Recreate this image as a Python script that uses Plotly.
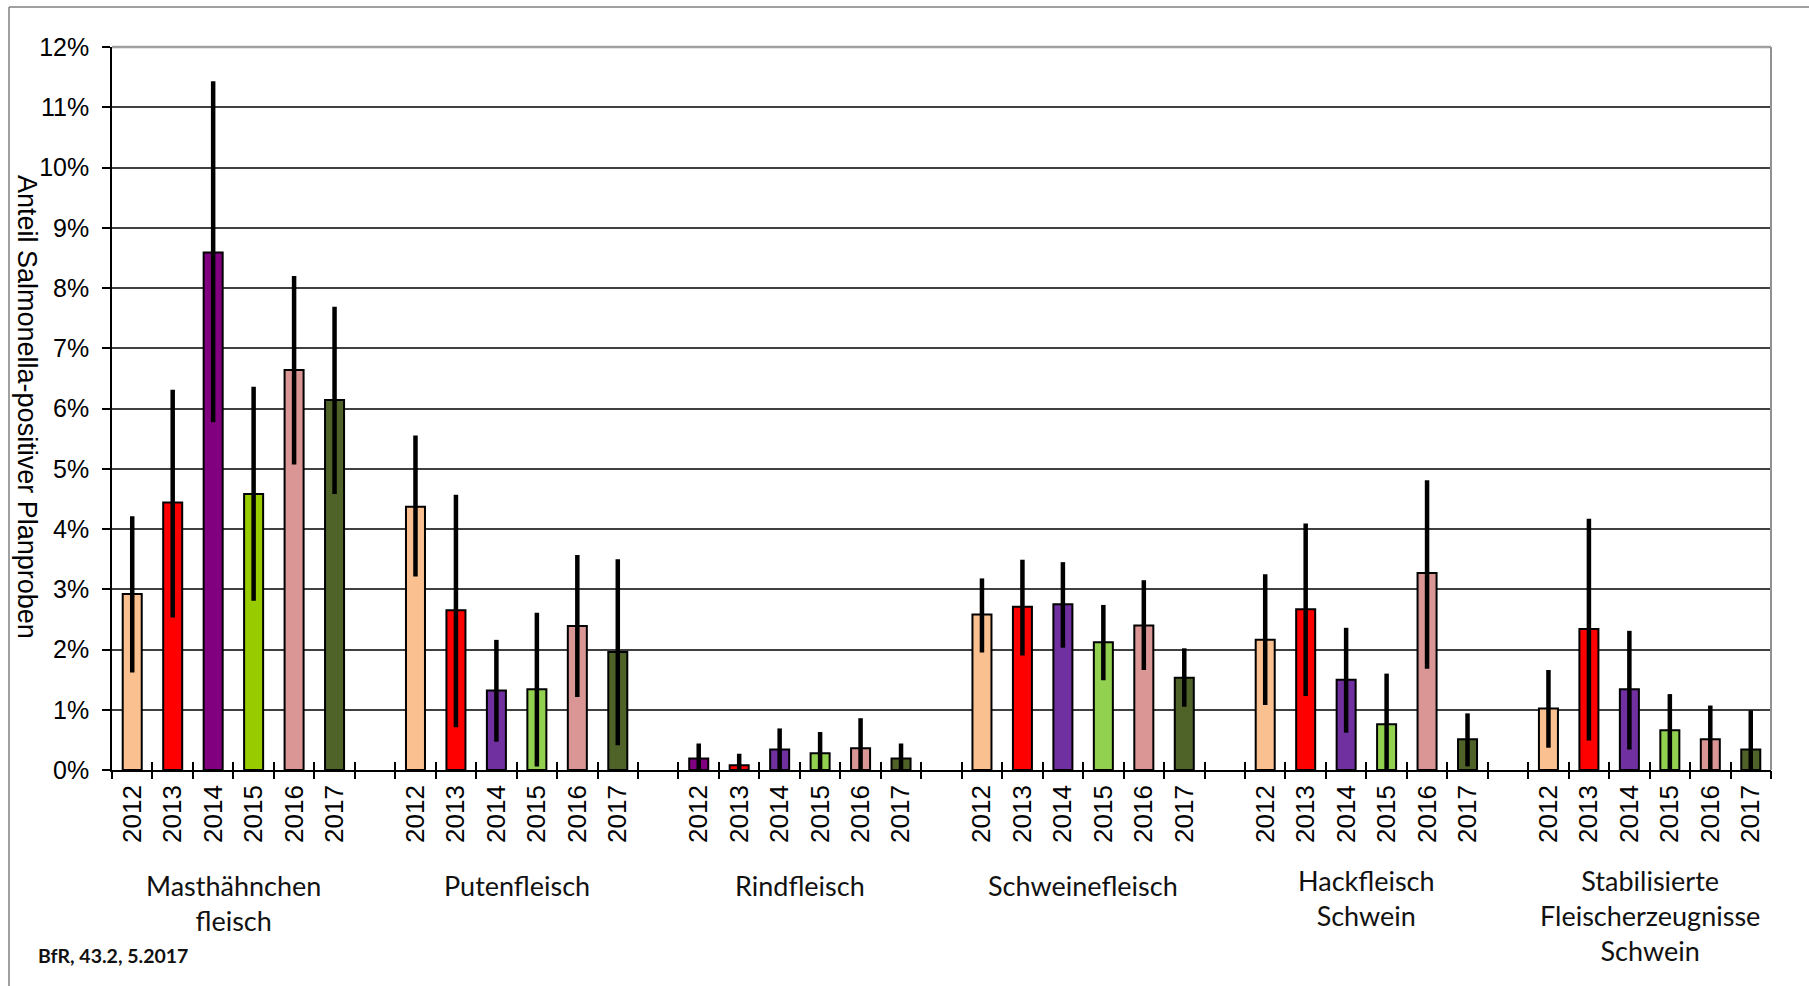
import plotly.graph_objects as go

# --- data (share of Salmonella-positive samples, %) ---
years = ["2012", "2013", "2014", "2015", "2016", "2017"]
categories = [
    "Masthähnchen<br>fleisch",
    "Putenfleisch",
    "Rindfleisch",
    "Schweinefleisch",
    "Hackfleisch<br>Schwein",
    "Stabilisierte<br>Fleischerzeugnisse<br>Schwein",
]

mast = [2.92, 4.44, 8.59, 4.58, 6.64, 6.14]
mast_hi = [4.21, 6.31, 11.43, 6.36, 8.20, 7.69]
mast_lo = [1.62, 2.53, 5.77, 2.81, 5.07, 4.58]

pute = [4.37, 2.65, 1.32, 1.34, 2.39, 1.96]
pute_hi = [5.55, 4.57, 2.16, 2.61, 3.57, 3.50]
pute_lo = [3.21, 0.71, 0.47, 0.06, 1.21, 0.41]

rind = [0.19, 0.08, 0.34, 0.28, 0.36, 0.19]
rind_hi = [0.44, 0.27, 0.69, 0.63, 0.86, 0.44]
rind_lo = [0.0, 0.0, 0.0, 0.0, 0.0, 0.0]

schwein = [2.58, 2.71, 2.75, 2.12, 2.40, 1.53]
schwein_hi = [3.18, 3.49, 3.45, 2.74, 3.15, 2.02]
schwein_lo = [1.95, 1.90, 2.03, 1.49, 1.66, 1.05]

hack = [2.16, 2.67, 1.50, 0.76, 3.27, 0.51]
hack_hi = [3.25, 4.09, 2.36, 1.60, 4.81, 0.94]
hack_lo = [1.08, 1.23, 0.62, 0.0, 1.68, 0.06]

stab = [1.02, 2.34, 1.34, 0.66, 0.51, 0.34]
stab_hi = [1.66, 4.17, 2.31, 1.26, 1.07, 0.99]
stab_lo = [0.37, 0.49, 0.34, 0.0, 0.0, 0.0]

y_ticks = list(range(0, 13))
y_tick_labels = [f"{v}%" for v in y_ticks]

# --- colours per year ---
colors_default = ["#FAC090", "#FF0000", "#7030A0", "#92D050", "#D99694", "#4F6228"]
colors_mast = ["#FAC090", "#FF0000", "#800080", "#99CC00", "#D99694", "#4F6228"]
colors_rind = ["#800080", "#FF0000", "#7030A0", "#92D050", "#D99694", "#4F6228"]

groups = [
    (mast, mast_hi, mast_lo, colors_mast),
    (pute, pute_hi, pute_lo, colors_default),
    (rind, rind_hi, rind_lo, colors_rind),
    (schwein, schwein_hi, schwein_lo, colors_default),
    (hack, hack_hi, hack_lo, colors_default),
    (stab, stab_hi, stab_lo, colors_default),
]

SLOTS = len(years) + 1  # one empty slot between groups
n_slots = len(categories) * SLOTS - 1

fig = go.Figure()
tick_pos, tick_txt = [], []
for g, (vals, hi, lo, cols) in enumerate(groups):
    xs = [g * SLOTS + i for i in range(len(years))]
    tick_pos += xs
    tick_txt += years
    fig.add_trace(go.Bar(
        x=xs, y=vals,
        marker=dict(color=cols, line=dict(color="black", width=2)),
        error_y=dict(
            type="data", symmetric=False,
            array=[h - v for h, v in zip(hi, vals)],
            arrayminus=[v - l for v, l in zip(vals, lo)],
            color="black", thickness=4.5, width=0,
        ),
        showlegend=False,
        hoverinfo="skip",
    ))

# empty helper traces so the overlaid tick axes get drawn
for ax in ("x2", "x3"):
    fig.add_trace(go.Scatter(x=[None], y=[None], xaxis=ax, yaxis="y",
                             mode="markers", showlegend=False, hoverinfo="skip"))

# plot area geometry (px)
W, H = 1809, 986
L, R, T, B = 112, 38, 47, 216
pw, ph = W - L - R, H - T - B


def px_x(px):
    return (px - L) / pw


def px_y(py):
    return 1 - (py - T) / ph


SANS = "Liberation Sans, Arial, sans-serif"
tick_font = dict(family=SANS, size=25, color="black")
year_font = dict(family=SANS, size=26, color="black")
title_font = dict(family=SANS, size=27, color="black")
label_font = dict(family="Lato, Calibri, sans-serif", size=27, color="#111111")

boundaries = [k - 0.5 for k in range(n_slots + 1)]
x_range = [-0.5, n_slots - 0.5]

tick_axis = dict(
    overlaying="x", anchor="y", side="bottom",
    range=x_range, tickmode="array", tickvals=boundaries,
    ticklen=8, tickwidth=1.5, tickcolor="black",
    showticklabels=False, showgrid=False, zeroline=False, showline=False,
    automargin=False, fixedrange=True,
)

fig.update_layout(
    template="none",
    width=W, height=H,
    margin=dict(l=L, r=R, t=T, b=B, pad=0),
    paper_bgcolor="white", plot_bgcolor="white",
    bargap=0.53,
    xaxis=dict(
        range=x_range,
        tickmode="array", tickvals=tick_pos, ticktext=tick_txt,
        tickangle=-90, ticks="", tickfont=year_font,
        ticklabelstandoff=3,
        showgrid=False, zeroline=False,
        showline=True, linecolor="black", linewidth=1.5,
        automargin=False, fixedrange=True,
    ),
    xaxis2=dict(tick_axis, ticks="outside"),
    xaxis3=dict(tick_axis, ticks="inside"),
    yaxis=dict(
        range=[0, 12],
        tickmode="array", tickvals=y_ticks, ticktext=y_tick_labels,
        tickfont=tick_font, ticklabelstandoff=8,
        ticks="outside", ticklen=8, tickwidth=1.5, tickcolor="black",
        showgrid=True, gridcolor="#404040", gridwidth=1.5,
        zeroline=False,
        showline=True, linecolor="black", linewidth=1.5,
        automargin=False, fixedrange=True,
    ),
)

# plot border (top and right) in light grey
fig.add_shape(type="line", xref="paper", yref="paper", x0=0, x1=1, y0=1, y1=1,
              line=dict(color="#A0A0A0", width=2.5))
fig.add_shape(type="line", xref="paper", yref="paper", x0=1, x1=1, y0=0, y1=1,
              line=dict(color="#909090", width=2))

# outer chart frame
fx, fy = px_x(9), px_y(7)
fig.add_shape(type="line", xref="paper", yref="paper", x0=fx, x1=fx, y0=fy, y1=px_y(H + 20),
              line=dict(color="#808080", width=1.5))
fig.add_shape(type="line", xref="paper", yref="paper", x0=fx, x1=px_x(W + 20), y0=fy, y1=fy,
              line=dict(color="#808080", width=1.5))

# group labels
for g, name in enumerate(categories):
    top_px = 862 if g >= 4 else 867
    fig.add_annotation(
        x=g * SLOTS + (len(years) - 1) / 2, xref="x",
        y=px_y(top_px), yref="paper",
        text=name, showarrow=False, align="center",
        xanchor="center", yanchor="top", font=label_font,
    )

# y-axis title, reading top to bottom
fig.add_annotation(
    x=px_x(27), y=px_y(407), xref="paper", yref="paper",
    text="Anteil Salmonella-positiver Planproben", textangle=90,
    showarrow=False, xanchor="center", yanchor="middle", font=title_font,
)

# source note
fig.add_annotation(
    x=px_x(36), y=px_y(955), xref="paper", yref="paper",
    text="<b>BfR, 43.2, 5.2017</b>", showarrow=False,
    xanchor="left", yanchor="middle",
    font=dict(family="Lato, Calibri, sans-serif", size=19.5, color="#111111"),
)

fig.write_html("out.html")
